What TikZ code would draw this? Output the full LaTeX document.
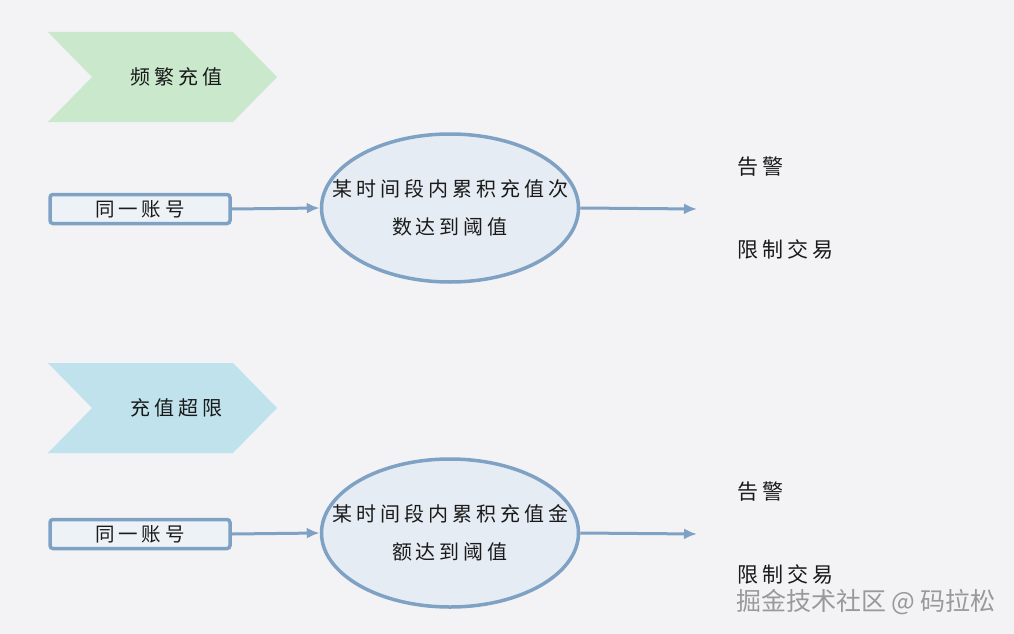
\documentclass[tikz,border=0pt]{standalone}
\usepackage{fontspec}
\usetikzlibrary{arrows.meta,shapes.geometric}
\newfontfamily\cjk[LetterSpace=20]{Noto Sans CJK SC}
\newfontfamily\markfont{Noto Sans CJK SC}
\definecolor{bgpage}{HTML}{F3F3F6}
\definecolor{steel}{HTML}{7FA2C4}
\definecolor{mist}{HTML}{E6ECF3}
\definecolor{mint}{HTML}{C9E8CC}
\definecolor{sky}{HTML}{BFE2EC}
\definecolor{ink}{HTML}{1A1A1A}
\tikzset{acct/.style={draw=steel,fill=mist!70!white,line width=3.5pt,rounded corners=3pt,minimum width=180pt,
 minimum height=29pt,inner sep=0pt,font=\cjk\fontsize{19.5}{22}\selectfont,text=ink},
 goal/.style={ellipse,draw=steel,fill=mist,line width=3.5pt,minimum width=257pt,minimum height=148pt,inner sep=0pt},
 goaltxt/.style={align=center,font=\cjk\fontsize{20}{38}\selectfont,text=ink},
 tagtxt/.style={font=\cjk\fontsize{20}{22}\selectfont,text=ink},
 outcome/.style={anchor=west,inner sep=0pt,font=\cjk\fontsize{21}{24}\selectfont,text=ink},
 arr/.style={-{Latex[length=13pt,width=11pt]},line width=3pt,draw=steel}}

\begin{document}
\begin{tikzpicture}[x=1pt,y=-1pt]
\fill[bgpage] (0,0) rectangle (1014,634);
\useasboundingbox (0,0) rectangle (1014,634);
\foreach \i/\ty/\y/\tag/\clr/\goaltext in {1/77/208/频繁充值/mint/某时间段内累积充值次\\数达到阈值,
 2/408/533/充值超限/sky/某时间段内累积充值金\\额达到阈值}{
 % chevron tag
 \fill[\clr] (48,{\ty-45}) -- (233,{\ty-45}) -- (277,\ty) -- (233,{\ty+45}) -- (48,{\ty+45}) -- (92,\ty) -- cycle;
 \node[tagtxt] (tag\i) at (176,\ty) {\tag};
 \node[acct] (acct\i) at (140,{\y+1}) {同一账号};
 \node[goal,label={[goaltxt]center:{\goaltext}}] (goal\i) at (450,\y) {};
 \coordinate (end\i) at (697,{\y+1});
 \draw[arr] (acct\i.east) -- (goal\i.west);
 \draw[arr] (goal\i.east) -- (end\i);
 \node[outcome] (alarm\i) at (737,{\y-41}) {告警};
 \node[outcome] (limit\i) at (737,{\y+41}) {限制交易};
}
\node[font=\markfont\fontsize{25}{27}\selectfont,text=black!40] (mark) at (866,602) {掘金技术社区 @ 码拉松};
\end{tikzpicture}
\end{document}
